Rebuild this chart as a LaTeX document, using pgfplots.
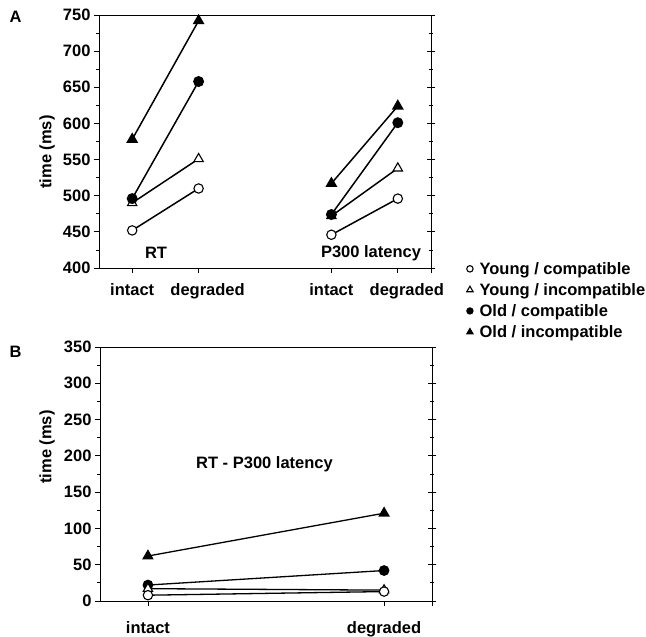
\documentclass[border=0pt]{standalone}
\usepackage{fontspec}
\setmainfont{Liberation Sans}
\usepackage{pgfplots}
\pgfplotsset{compat=1.18}
\begin{document}
\begin{tikzpicture}[font=\fontsize{16.5bp}{19bp}\selectfont\bfseries]
\useasboundingbox (0,0) rectangle (646bp,-637bp);
\pgfplotsset{
  myax/.style={
    scale only axis,
    /pgf/number format/assume math mode=true,
    axis line style={line width=0.9bp},
    every tick/.style={line width=0.8bp, black},
    tick align=outside,
    major tick length=5bp,
    minor tick length=3bp,
    ytick pos=left,
    xtick pos=bottom,
    minor y tick num=1,
    unbounded coords=jump,
    cycle list={{black}},
  },
  rightax/.style={
    scale only axis,
    axis x line=none,
    axis y line*=right,
    axis line style={line width=0.9bp},
    every tick/.style={line width=0.8bp, black},
    tick align=center,
    major tick length=8bp,
    minor tick length=4bp,
    minor y tick num=1,
    yticklabels={},
  },
  ln/.style={black, line width=1.5bp, mark size=4.7bp},
  yc/.style={ln, mark=*, mark options={fill=white, draw=black, solid, line width=1.1bp}},
  yi/.style={ln, mark=triangle*, mark options={fill=white, draw=black, solid, line width=1.1bp, scale=1.15}},
  oc/.style={ln, mark=*, mark options={fill=black, draw=black, solid}},
  oi/.style={ln, mark=triangle*, mark options={fill=black, draw=black, solid, scale=1.15}},
}
% Panel A right-side ticks
\begin{axis}[rightax,
  at={(99bp,-268bp)}, anchor=south west,
  width=332bp, height=253bp,
  xmin=0.5, xmax=5.5, ymin=400, ymax=750,
  ytick={400,450,...,750},
]
\end{axis}
% Panel A
\begin{axis}[myax,
  at={(99bp,-268bp)}, anchor=south west,
  width=332bp, height=253bp,
  xmin=0.5, xmax=5.5, ymin=400, ymax=750,
  ytick={400,450,...,750},
  xtick={1,2,4,5},
  extra x ticks={5.5}, extra x tick labels={},
  xticklabels={intact,\hspace*{18bp}degraded,intact,\hspace*{18bp}degraded},
  xticklabel style={yshift=-7bp},
  legend style={at={(1.107,0.028)}, anchor=north west, draw=none, fill=none,
    font=\fontsize{16.5bp}{19bp}\selectfont\bfseries, row sep=5.6bp,
    inner sep=0pt, nodes={inner sep=1bp},
    /tikz/every odd column/.append style={column sep=5.5bp}},
  legend cell align=left,
  legend image code/.code={\draw[mark size=3.2bp, line width=0.9bp] plot coordinates {(0bp,0bp)};},
]
\addplot[yc] coordinates {(1,452) (2,510) (3,nan) (4,446) (5,496)};
\addlegendentry{Young / compatible}
\addplot[yi] coordinates {(1,490) (2,551) (3,nan) (4,472) (5,538)};
\addlegendentry{Young / incompatible}
\addplot[oc] coordinates {(1,496) (2,658) (3,nan) (4,474) (5,601)};
\addlegendentry{Old / compatible}
\addplot[oi] coordinates {(1,578) (2,742) (3,nan) (4,517) (5,624)};
\addlegendentry{Old / incompatible}
\end{axis}
% Panel B right-side ticks
\begin{axis}[rightax,
  at={(100bp,-601bp)}, anchor=south west,
  width=332bp, height=254bp,
  xmin=0.797, xmax=2.203, ymin=0, ymax=350,
  ytick={0,50,...,350},
]
\end{axis}
% Panel B
\begin{axis}[myax,
  at={(100bp,-601bp)}, anchor=south west,
  width=332bp, height=254bp,
  xmin=0.797, xmax=2.203, ymin=0, ymax=350,
  ytick={0,50,...,350},
  xtick={1,2},
  extra x ticks={2.203}, extra x tick labels={},
  xticklabels={intact,degraded},
  xticklabel style={yshift=-12bp},
]
\addplot[oi, line width=1.3bp] coordinates {(1,62) (2,121)};
\addplot[oc, line width=1.3bp] coordinates {(1,22) (2,42)};
\addplot[yi, line width=1.3bp] coordinates {(1,17) (2,15)};
\addplot[yc, line width=1.3bp] coordinates {(1,8) (2,13)};
\end{axis}
\node at (15.5bp,-17bp) {A};
\node at (15.5bp,-352bp) {B};
\node[rotate=90] at (47bp,-152bp) {time (ms)};
\node[rotate=90] at (47bp,-447bp) {time (ms)};
\node at (156bp,-253bp) {RT};
\node at (371bp,-253bp) {P300 latency};
\node at (264.5bp,-464bp) {RT - P300 latency};
\end{tikzpicture}
\end{document}
